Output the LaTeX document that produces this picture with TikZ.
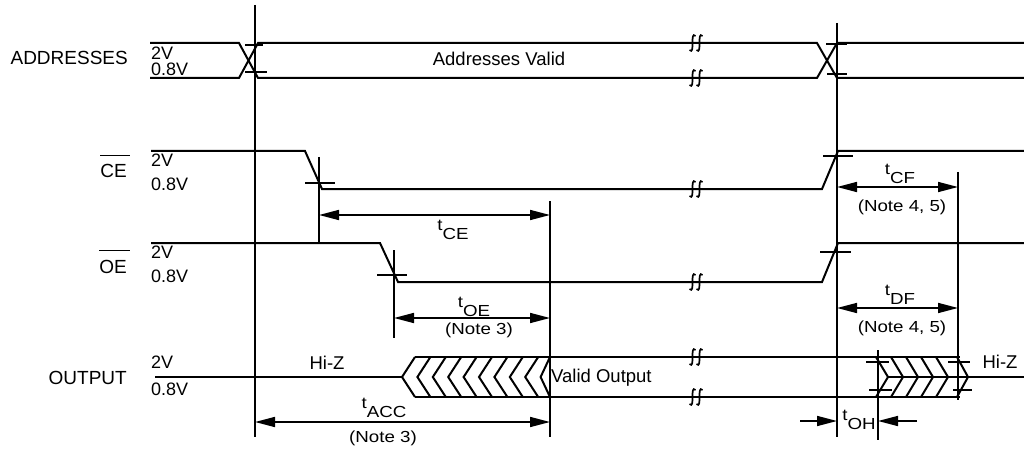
\documentclass[tikz,border=0pt]{standalone}
\usepackage{fontspec}
\setmainfont{Liberation Sans}
\newfontfamily\widefont[FakeStretch=1.17]{Liberation Sans}
\usetikzlibrary{arrows.meta}

\newcommand{\tname}[1]{\raisebox{8.5pt}{t}#1}
\newcommand{\sbreak}[2]{%
  \foreach \dd in {-3.5,3.5}{%
    \draw[line width=1.7pt] ({#1+\dd+3},{#2-7}) .. controls ({#1+\dd},{#2-10}) and ({#1+\dd},{#2-5}) .. ({#1+\dd},{#2})
      .. controls ({#1+\dd},{#2+5}) and ({#1+\dd},{#2+10}) .. ({#1+\dd-3},{#2+7});}}

\begin{document}
\begin{tikzpicture}[x=1pt,y=-1pt,
            >={Triangle[length=20pt,width=10pt]},
            sig/.style={line width=2pt},
            ref/.style={line width=1.4pt},
            tick/.style={line width=1.6pt},
            dim/.style={line width=1.6pt,<->},
            lbl/.style={inner sep=0pt,anchor=base east,font=\fontsize{19}{21}\selectfont},
            volt/.style={inner sep=0pt,anchor=base west,font=\fontsize{18}{20}\selectfont},
            txt/.style={inner sep=0pt,anchor=base,font=\fontsize{18.5}{20}\selectfont},
            note/.style={inner sep=0pt,anchor=base,font=\widefont\fontsize{16}{18}\selectfont},
            tlbl/.style={inner sep=0pt,anchor=base,font=\widefont\fontsize{16}{18}\selectfont}]

            \useasboundingbox (0,0) rectangle (1024,449);

            \node[lbl] (addr) at (128,65) {ADDRESSES};
            \node[lbl] (ce) at (127,178) {CE};
            \node[lbl] (oe) at (127,273) {OE};
            \node[lbl] (out) at (127,384) {OUTPUT};
            \draw[ref] ([yshift=9pt]ce.north west) -- ([yshift=9pt,xshift=3pt]ce.north east);
            \draw[ref] ([yshift=9pt]oe.north west) -- ([yshift=9pt,xshift=3pt]oe.north east);

            \node[volt] (addrhi) at (151,60) {2V};
            \node[volt] (addrlo) at (151,76) {0.8V};
            \node[volt] (cehi) at (151,167) {2V};
            \node[volt] (celo) at (151,190) {0.8V};
            \node[volt] (oehi) at (151,258) {2V};
            \node[volt] (oelo) at (151,282) {0.8V};
            \node[volt] (outhi) at (151,368) {2V};
            \node[volt] (outlo) at (151,395) {0.8V};

            \draw[sig] (150,43) -- (239,43) -- (258,78) -- (817,78) -- (837,43) -- (1024,43);
            \draw[sig] (150,78) -- (239,78) -- (258,43) -- (817,43) -- (837,78) -- (1024,78);
            \draw[sig] (151,151) -- (305,151) -- (322,189) -- (822,189) -- (838,151) -- (1024,151);
            \draw[sig] (151,243) -- (380,243) -- (398,282) -- (822,282) -- (838,243) -- (1024,243);
            \draw[sig] (155,377) -- (402,377);
            \draw[sig] (415,357) -- (960,357);
            \draw[sig] (415,397) -- (960,397);
            \draw[sig] (888,377) -- (1024,377);

            \foreach \k in {0,...,9}{
                \pgfmathsetmacro\tx{402+15.4*\k}
                \pgfmathsetmacro\ax{min(\tx+13,550)}
                \draw[sig] (\ax,357) -- (\tx,377) -- (\ax,397);
            }
            \foreach \tx in {888,903,918,933,948}{
                \draw[sig] (\tx-12,357) -- (\tx,377) -- (\tx-12,397);
            }
            \draw[sig] (957,357) -- (968,377) -- (957,397);

            \foreach \y in {43,78,189,282,357,397}{
                \sbreak{696}{\y}
            }

            \draw[tick] (245,45) -- (263,45);
            \draw[tick] (245,72) -- (267,72);
            \draw[tick] (826,44) -- (847,44);
            \draw[tick] (827,74) -- (847,74);
            \draw[tick] (305,183) -- (335,183);
            \draw[tick] (377,275) -- (407,275);
            \draw[tick] (823,156) -- (853,156);
            \draw[tick] (820,252) -- (851,252);
            \draw[tick] (866,362) -- (889,362);
            \draw[tick] (869,390) -- (892,390);
            \draw[tick] (948,362) -- (970,362);
            \draw[tick] (953,390) -- (972,390);

            \coordinate (v1t) at (255,5);
            \coordinate (v1b) at (255,437);
            \coordinate (v2t) at (837,23);
            \coordinate (v2b) at (837,437);
            \coordinate (v3t) at (319,157);
            \coordinate (v3b) at (319,243);
            \coordinate (v4t) at (394,250);
            \coordinate (v4b) at (394,338);
            \coordinate (v5t) at (550,201);
            \coordinate (v5b) at (550,437);
            \coordinate (v6t) at (958,172);
            \coordinate (v6b) at (958,400);
            \coordinate (v7t) at (878,350);
            \coordinate (v7b) at (878,440);
            \foreach \v in {v1,v2,v3,v4,v5,v6,v7}{
                \draw[ref] (\v t) -- (\v b);
            }

            \coordinate (tce1) at (319,215);
            \coordinate (tce2) at (550,215);
            \coordinate (toe1) at (394,318);
            \coordinate (toe2) at (550,318);
            \coordinate (tacc1) at (255,422);
            \coordinate (tacc2) at (550,422);
            \coordinate (tcf1) at (837,187);
            \coordinate (tcf2) at (958,187);
            \coordinate (tdf1) at (837,308);
            \coordinate (tdf2) at (958,308);
            \coordinate (toh1) at (800,421);
            \coordinate (toh2) at (837,421);
            \coordinate (toh3) at (917,421);
            \coordinate (toh4) at (878,421);
            \draw[dim] (tce1) -- (tce2);
            \draw[dim] (toe1) -- (toe2);
            \draw[dim] (tacc1) -- (tacc2);
            \draw[dim] (tcf1) -- (tcf2);
            \draw[dim] (tdf1) -- (tdf2);
            \draw[line width=1.6pt,->] (toh1) -- (toh2);
            \draw[line width=1.6pt,->] (toh3) -- (toh4);

            \node[txt] (valid) at (499,66) {Addresses Valid};
            \node[txt] (hiz1) at (327,369) {Hi-Z};
            \node[txt] (hiz2) at (1000,368) {Hi-Z};
            \node[txt,anchor=base west] (vout) at (551,382) {Valid Output};

            \node[tlbl] (lce) at (453,239) {\tname{CE}};
            \node[tlbl] (loe) at (474,316) {\tname{OE}};
            \node[tlbl] (lacc) at (384,417) {\tname{ACC}};
            \node[tlbl] (lcf) at (900,183) {\tname{CF}};
            \node[tlbl] (ldf) at (900,304) {\tname{DF}};
            \node[tlbl] (loh) at (859,429) {\tname{OH}};

            \node[note] (noe) at (479,334) {(Note 3)};
            \node[note] (nacc) at (383,442) {(Note 3)};
            \node[note] (ncf) at (902,211) {(Note 4, 5)};
            \node[note] (ndf) at (902,332) {(Note 4, 5)};
\end{tikzpicture}
\end{document}
